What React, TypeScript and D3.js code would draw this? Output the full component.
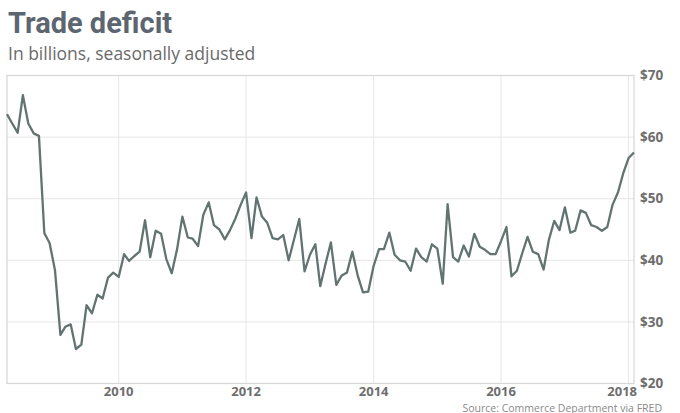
import React from "react";
import * as d3 from "d3";

const startYear = 2008;
const startMonth = 3; // April (0-based)
const deficit = [
  63.7, 62.2, 60.7, 66.8, 62.2, 60.6, 60.2, 44.4, 42.8, 38.4,
  27.9, 29.2, 29.6, 25.6, 26.3, 32.7, 31.4, 34.4, 33.8, 37.2,
  38.0, 37.3, 41.0, 39.9, 40.7, 41.4, 46.5, 40.5, 44.8, 44.3,
  40.2, 37.9, 41.7, 47.1, 43.7, 43.5, 42.3, 47.4, 49.4, 45.7,
  45.0, 43.4, 44.9, 46.8, 49.0, 51.0, 43.6, 50.2, 47.1, 46.1,
  43.6, 43.4, 44.1, 40.0, 43.3, 46.7, 38.2, 40.9, 42.6, 35.8,
  39.5, 42.9, 36.0, 37.5, 38.0, 41.4, 37.6, 34.8, 34.9, 39.1,
  41.8, 41.8, 44.5, 40.9, 40.0, 39.8, 38.3, 41.9, 40.5, 39.8,
  42.6, 41.9, 36.2, 49.1, 40.5, 39.8, 42.4, 40.6, 44.3, 42.2,
  41.7, 41.0, 41.0, 43.1, 45.4, 37.4, 38.3, 41.1, 43.8, 41.4,
  41.0, 38.5, 43.3, 46.4, 44.9, 48.6, 44.5, 44.8, 48.1, 47.7,
  45.7, 45.4, 44.8, 45.4, 49.0, 51.0, 54.1, 56.6, 57.5,
];
const yearTicks = [2010, 2012, 2014, 2016, 2018];
const valueTicks = [20, 30, 40, 50, 60, 70];

const title = "Trade deficit";
const subtitle = "In billions, seasonally adjusted";
const source = "Source: Commerce Department via FRED";

export default function App() {
  const W = 680, H = 413;
  const left = 7, right = 634, top = 75.5, bottom = 383.5;
  const data = deficit.map((v, i) => ({ date: new Date(startYear, startMonth + i, 1), v }));
  const x = d3.scaleTime()
    .domain([data[0].date, data[data.length - 1].date])
    .range([left, right]);
  const y = d3.scaleLinear().domain([20, 70]).range([bottom, top]);
  const line = d3.line<{ date: Date; v: number }>()
    .x(d => x(d.date))
    .y(d => y(d.v));

  const grid = "#e6e6e6";
  const border = "#d6d6d6";
  const labelColor = "#6e6e6e";

  return (
    <svg width={W} height={H} style={{ position: "absolute", left: 0, top: 0, background: "#fff" }}>
      <text x={8} y={33} fontFamily="Roboto" fontWeight={700} fontSize={29} fill="#5c6570">{title}</text>
      <text x={8} y={60} fontFamily="'Open Sans'" fontSize={17.5} fill="#6a6a6a">{subtitle}</text>

      {valueTicks.filter(t => t > 20 && t < 70).map(t => (
        <line key={"h" + t} x1={left} x2={right} y1={y(t)} y2={y(t)} stroke={grid} strokeWidth={1} />
      ))}
      {yearTicks.map(t => (
        <line key={"v" + t} x1={x(new Date(t, 0, 1))} x2={x(new Date(t, 0, 1))} y1={top} y2={bottom} stroke={grid} strokeWidth={1} />
      ))}
      <rect x={left} y={top} width={right - left} height={bottom - top} fill="none" stroke={border} strokeWidth={1.2} />

      <path d={line(data) || ""} fill="none" stroke="#627471" strokeWidth={2.3} strokeLinejoin="round" />

      {valueTicks.map(t => (
        <text key={"yl" + t} x={640} y={y(t)} dy="0.35em" fontFamily="'Open Sans'" fontWeight={700} fontSize={13.5} fill={labelColor}>${t}</text>
      ))}
      {yearTicks.map(t => {
        const px = x(new Date(t, 0, 1));
        const last = t === yearTicks[yearTicks.length - 1];
        return (
          <text key={"xl" + t} x={last ? 637 : px} y={396} textAnchor={last ? "end" : "middle"} fontFamily="'Open Sans'" fontWeight={700} fontSize={13} fill={labelColor}>{t}</text>
        );
      })}
      <text x={662} y={411.5} textAnchor="end" fontFamily="'Open Sans'" fontSize={10.5} fill="#8a8a8a">{source}</text>
    </svg>
  );
}
